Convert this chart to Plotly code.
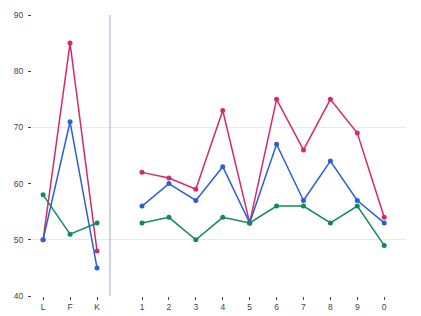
import plotly.graph_objects as go

cats_left = ["L", "F", "K"]
cats_right = ["1", "2", "3", "4", "5", "6", "7", "8", "9", "0"]

pink_left = [50, 85, 48]
blue_left = [50, 71, 45]
green_left = [58, 51, 53]

pink_right = [62, 61, 59, 73, 53, 75, 66, 75, 69, 54]
blue_right = [56, 60, 57, 63, 53, 67, 57, 64, 57, 53]
green_right = [53, 54, 50, 54, 53, 56, 56, 53, 56, 49]

y_ticks = [40, 50, 60, 70, 80, 90]
grid_vals = [50, 70]

colors = {"pink": "#d42a6c", "blue": "#2a5fd8", "green": "#0f8a5c"}

fig = go.Figure()
for name, vl, vr in [("pink", pink_left, pink_right), ("blue", blue_left, blue_right), ("green", green_left, green_right)]:
    c = colors[name]
    fig.add_trace(go.Scatter(x=cats_left, y=vl, mode="lines+markers", xaxis="x", yaxis="y",
                             line=dict(color=c, width=1.5), marker=dict(color=c, size=5), showlegend=False))
    fig.add_trace(go.Scatter(x=cats_right, y=vr, mode="lines+markers", xaxis="x2", yaxis="y",
                             line=dict(color=c, width=1.5), marker=dict(color=c, size=5), showlegend=False))

d1 = 78 / 374
tf = dict(family="Liberation Sans", size=8.5, color="#444")
axis_common = dict(type="category", showgrid=False, zeroline=False, showline=False, automargin=False,
                   ticks="outside", ticklen=3, tickcolor="#444", tickwidth=1, tickfont=tf)
fig.update_layout(
    width=421, height=316,
    margin=dict(l=32, r=15, t=15, b=20),
    paper_bgcolor="white", plot_bgcolor="white",
    xaxis=dict(domain=[0, d1], range=[-0.41, 2.48], anchor="y", **axis_common),
    xaxis2=dict(domain=[d1, 1], range=[-1.19, 9.81], anchor="y", **axis_common),
    yaxis=dict(range=[40, 90], tickvals=y_ticks, showgrid=False, zeroline=False, showline=False,
               automargin=False, ticks="outside", ticklen=3, tickcolor="#444", tickwidth=1,
               ticklabelstandoff=3, tickfont=tf,
               minor=dict(tickvals=grid_vals, showgrid=True, gridcolor="#e6e9ee", gridwidth=1, ticks="")),
    shapes=[dict(type="line", xref="x2 domain", yref="y domain", x0=0, x1=0, y0=0, y1=1,
                 line=dict(color="#aebad6", width=1.2))],
)

fig.write_html("out.html")
